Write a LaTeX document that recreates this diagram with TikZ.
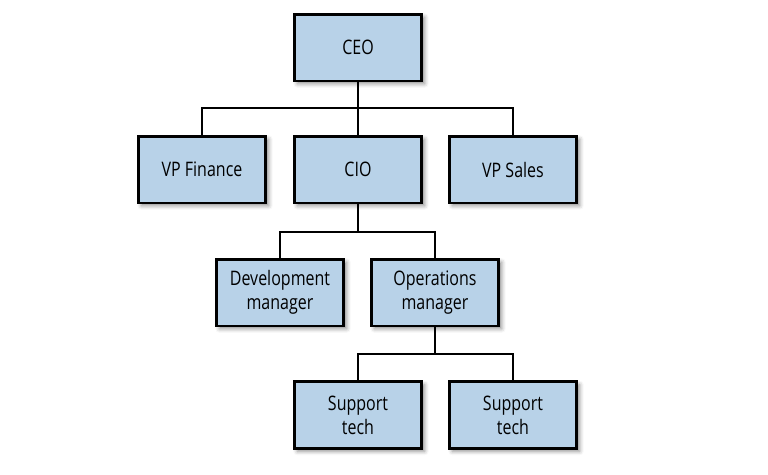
\documentclass[tikz,border=0pt]{standalone}
\usepackage{fontspec}
\setmainfont[FakeStretch=0.8]{Open Sans}
\usetikzlibrary{shadows.blur}
\definecolor{boxfill}{HTML}{B8D2E8}
\tikzset{
  orgbox/.style={draw=black, fill=boxfill, line width=2.6pt, minimum width=127.4pt, minimum height=66.6pt,
    inner sep=0pt, align=center, font=\fontsize{20}{24}\selectfont,
    blur shadow={shadow xshift=3pt, shadow yshift=-3pt, shadow blur radius=4pt, shadow opacity=45}},
  conn/.style={draw=black, line width=2.3pt}
}
\begin{document}
\begin{tikzpicture}[x=1pt,y=-1pt]
\useasboundingbox (0,0) rectangle (768,474);
\node[orgbox] (ceo) at (358,47.5) {CEO};
\node[orgbox] (vpf) at (202,169.5) {VP Finance};
\node[orgbox] (cio) at (358,169.5) {CIO};
\node[orgbox] (vps) at (513,169.5) {VP Sales};
\node[orgbox] (dev) at (280,292.5) {Development\\manager};
\node[orgbox] (ops) at (435,292.5) {Operations\\manager};
\node[orgbox] (st1) at (358,415) {Support\\tech};
\node[orgbox] (st2) at (513,415) {Support\\tech};
\coordinate (j1) at (358,108);
\coordinate (j2) at (358,232.3);
\coordinate (j3) at (435,354);
\draw[conn] (ceo.south) -- (cio.north);
\draw[conn] (vpf.north) |- (j1) -| (vps.north);
\draw[conn] (cio.south) -- (j2);
\draw[conn] (dev.north) |- (j2) -| (ops.north);
\draw[conn] (ops.south) -- (j3);
\draw[conn] (st1.north) |- (j3) -| (st2.north);
\end{tikzpicture}
\end{document}
